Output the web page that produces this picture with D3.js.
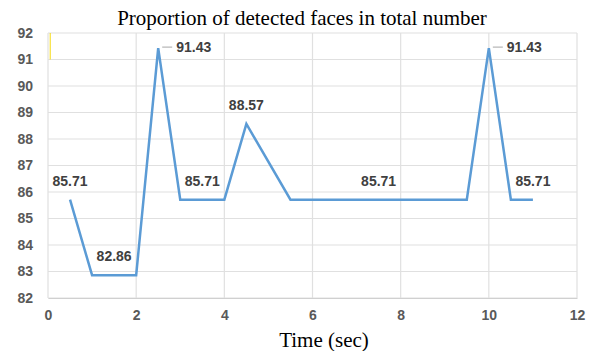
<!DOCTYPE html>
<html>
<head>
<meta charset="utf-8">
<script src="https://cdn.jsdelivr.net/npm/d3@7"></script>
<style>
  body { margin: 0; background: #fff; }
  .tick text { font-family: "Liberation Sans", Arial, sans-serif; font-size: 14px; font-weight: bold; fill: #595959; }
</style>
</head>
<body>
<div id="chart"></div>
<script>
// time (sec) and proportion (%)
const times = [0.5, 1, 2, 2.5, 3, 4, 4.5, 5.5, 9.5, 10, 10.5, 11];
const values = [85.71, 82.86, 82.86, 91.43, 85.71, 85.71, 88.57, 85.71, 85.71, 91.43, 85.71, 85.71];
const xTicks = [0, 2, 4, 6, 8, 10, 12];
const yTicks = [82, 83, 84, 85, 86, 87, 88, 89, 90, 91, 92];

// data labels: x position, value, with leader line or not
const labelX = [0.5, 1.5, 2.5, 3.5, 4.5, 7.5, 10, 11];
const labelV = [85.71, 82.86, 91.43, 85.71, 88.57, 85.71, 91.43, 85.71];
const labelLeader = [false, false, true, false, false, false, true, false];

const W = 592, H = 351;
const margin = { top: 33, right: 15, bottom: 53, left: 48 };
const width = W - margin.left - margin.right;
const height = H - margin.top - margin.bottom;

const svg = d3.select("#chart").append("svg")
  .attr("width", W).attr("height", H);

const g = svg.append("g")
  .attr("transform", "translate(" + margin.left + "," + margin.top + ")");

let x = d3.scaleLinear().domain([0, 12]).range([0, width]);
let y = d3.scaleLinear().domain([82, 92]).range([height, 0]);

// grid
g.append("g").selectAll("line").data(yTicks).join("line")
  .attr("x1", 0).attr("x2", width)
  .attr("y1", d => y(d)).attr("y2", d => y(d))
  .attr("stroke", "#e0e0e0").attr("stroke-width", 1.2);
g.append("g").selectAll("line").data(xTicks).join("line")
  .attr("x1", d => x(d)).attr("x2", d => x(d))
  .attr("y1", 0).attr("y2", height)
  .attr("stroke", "#e0e0e0").attr("stroke-width", 1.2);

// small yellow mark near top left
g.append("line")
  .attr("x1", x(0.05)).attr("x2", x(0.05))
  .attr("y1", y(92)).attr("y2", y(91))
  .attr("stroke", "#f5d90a").attr("stroke-width", 1);

// axes
g.append("g")
  .attr("transform", "translate(0," + height + ")")
  .call(d3.axisBottom(x).tickValues(xTicks).tickSize(0).tickPadding(12))
  .call(a => a.select(".domain").attr("stroke", "#d0d0d0"));

g.append("g")
  .call(d3.axisLeft(y).tickValues(yTicks).tickSize(0).tickPadding(15))
  .call(a => a.select(".domain").remove());

// line
const data = times.map((t, i) => ({ t: t, v: values[i] }));
g.append("path")
  .datum(data)
  .attr("fill", "none")
  .attr("stroke", "#5b9bd5")
  .attr("stroke-width", 2.5)
  .attr("stroke-linejoin", "miter")
  .attr("d", d3.line().x(d => x(d.t)).y(d => y(d.v)));

// data labels
const labels = labelX.map((lx, i) => ({ x: lx, v: labelV[i], leader: labelLeader[i] }));
const lab = g.append("g")
  .attr("font-family", "Liberation Sans, Arial, sans-serif")
  .attr("font-size", 14).attr("font-weight", "bold").attr("fill", "#404040");

labels.forEach(d => {
  if (d.leader) {
    lab.append("line")
      .attr("x1", x(d.x) + 4).attr("x2", x(d.x) + 14)
      .attr("y1", y(d.v) - 1).attr("y2", y(d.v) - 1)
      .attr("stroke", "#a6a6a6").attr("stroke-width", 1);
    lab.append("text")
      .attr("x", x(d.x) + 18).attr("y", y(d.v) + 4)
      .text(d.v.toFixed(2));
  } else {
    lab.append("text")
      .attr("x", x(d.x)).attr("y", y(d.v) - 14)
      .attr("text-anchor", "middle")
      .text(d.v.toFixed(2));
  }
});

// title
svg.append("text")
  .attr("x", 302).attr("y", 25)
  .attr("text-anchor", "middle")
  .attr("font-family", "Liberation Serif, Times New Roman, serif")
  .attr("font-size", 21)
  .text("Proportion of detected faces in total number");

// x axis title
svg.append("text")
  .attr("x", 324).attr("y", 347)
  .attr("text-anchor", "middle")
  .attr("font-family", "Liberation Serif, Times New Roman, serif")
  .attr("font-size", 21)
  .text("Time (sec)");
</script>
</body>
</html>
